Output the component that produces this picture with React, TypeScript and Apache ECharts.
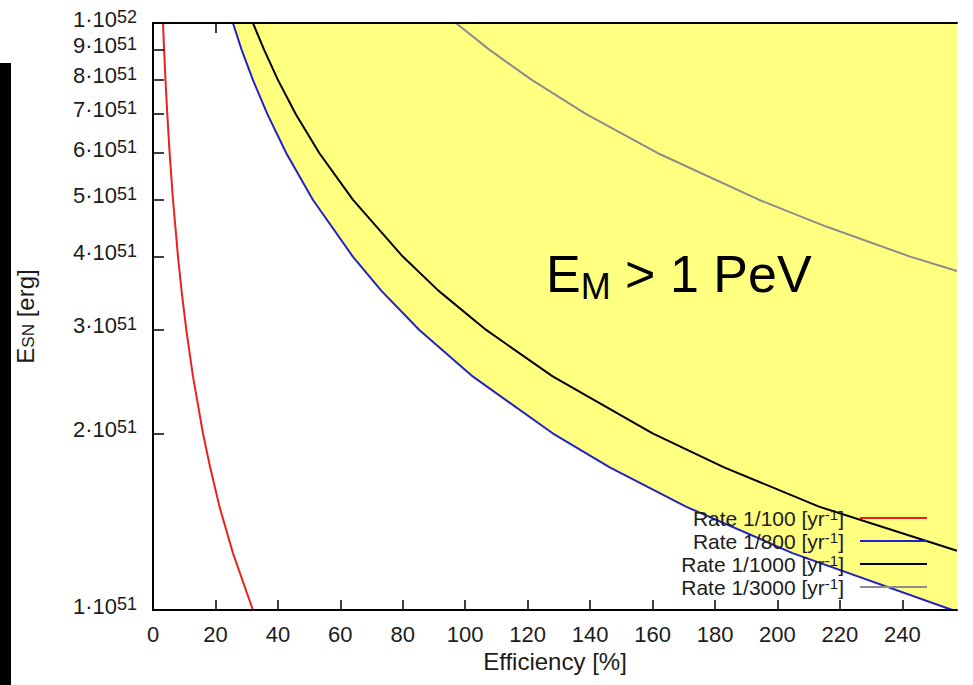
import React, { useEffect, useRef } from 'react';
import * as echarts from 'echarts';

// Efficiency [%] (x) and E_SN in units of 1e51 erg (y)
const redEff = [3.2, 3.56, 4, 4.57, 5.33, 6.4, 8, 9.14, 10.67, 12.8, 16, 18.3, 21.3, 25.6, 32];
const redE = [10, 9, 8, 7, 6, 5, 4, 3.5, 3, 2.5, 2, 1.75, 1.5, 1.25, 1];
const blueEff = [25.6, 28.4, 32, 36.6, 42.7, 51.2, 64, 73.1, 85.3, 102.4, 128, 146.3, 170.7, 204.8, 256, 257.5];
const blueE = [10, 9, 8, 7, 6, 5, 4, 3.5, 3, 2.5, 2, 1.75, 1.5, 1.25, 1, 0.994];
const blackEff = [32, 35.6, 40, 45.7, 53.3, 64, 80, 91.4, 106.7, 128, 160, 182.9, 213.3, 257.5];
const blackE = [10, 9, 8, 7, 6, 5, 4, 3.5, 3, 2.5, 2, 1.75, 1.5, 1.262];
const grayEff = [97, 107.8, 121.3, 138.6, 161.7, 194, 215.6, 242.5, 257.5];
const grayE = [10, 9, 8, 7, 6, 5, 4.5, 4, 3.78];

const seriesNames = ['Rate 1/100 [yr-1]', 'Rate 1/800 [yr-1]', 'Rate 1/1000 [yr-1]', 'Rate 1/3000 [yr-1]'];
const seriesColors = ['#e8221c', '#2222c8', '#000000', '#8c8c8c'];

const xTicks = [0, 20, 40, 60, 80, 100, 120, 140, 160, 180, 200, 220, 240];
const yTicks = [1, 2, 3, 4, 5, 6, 7, 8, 9, 10];

const FONT = '"Liberation Sans", Arial, Helvetica, sans-serif';
const TXT = '#1c1c1c';

const pairs = (xs: number[], ys: number[]) => xs.map((x, i) => [x, ys[i]]);

export default function App() {
  const ref = useRef<HTMLDivElement>(null);
  useEffect(() => {
    document.body.style.margin = '0';
    const chart = echarts.init(ref.current!, null, { renderer: 'svg' });
    const lineData = [pairs(redEff, redE), pairs(blueEff, blueE), pairs(blackEff, blackE), pairs(grayEff, grayE)];
    const option: any = {
      animation: false,
      textStyle: { fontFamily: FONT },
      grid: { left: 153, right: 16, top: 23, bottom: 75, containLabel: false, outerBoundsMode: 'none' },
      xAxis: [
        {
          type: 'value', min: 0, max: 257.5, position: 'bottom', z: 5,
          splitLine: { show: false },
          axisLine: { show: true, lineStyle: { color: '#000', width: 2 } },
          axisTick: { show: true, inside: true, length: 10, customValues: xTicks, lineStyle: { color: '#000', width: 1.5 } },
          axisLabel: { customValues: xTicks, fontSize: 22, color: TXT, margin: 13, fontFamily: FONT },
          name: 'Efficiency [%]', nameLocation: 'middle', nameGap: 38,
          nameTextStyle: { fontSize: 24, color: TXT, fontFamily: FONT },
        },
        {
          type: 'value', min: 0, max: 257.5, position: 'top', z: 5,
          splitLine: { show: false },
          axisLine: { show: true, lineStyle: { color: '#000', width: 2 } },
          axisTick: { show: true, inside: true, length: 10, customValues: [20], lineStyle: { color: '#000', width: 1.5 } },
          axisLabel: { show: false },
        },
      ],
      yAxis: [
        {
          type: 'log', logBase: 10, min: 1, max: 10, position: 'left', z: 5,
          splitLine: { show: false },
          axisLine: { show: true, lineStyle: { color: '#000', width: 2 } },
          axisTick: { show: true, inside: true, length: 11, customValues: yTicks, lineStyle: { color: '#000', width: 1.5 } },
          axisLabel: {
            customValues: yTicks, margin: 16, fontSize: 22, color: TXT, fontFamily: FONT,
            padding: [0, 0, 8, 0],
            formatter: (v: number) => (v >= 9.99 ? '1·10{sup|52}' : `${Math.round(v)}·10{sup|51}`),
            rich: { sup: { fontSize: 18, verticalAlign: 'top', lineHeight: 22, color: TXT, fontFamily: FONT } },
          },
          name: 'E{sub|SN} [erg]', nameLocation: 'middle', nameRotate: 90, nameGap: 116,
          nameTextStyle: {
            fontSize: 24, color: TXT, fontFamily: FONT,
            rich: { sub: { fontSize: 17, verticalAlign: 'bottom', color: TXT, fontFamily: FONT } },
          },
        },
        {
          type: 'log', logBase: 10, min: 1, max: 10, position: 'right', z: 5,
          splitLine: { show: false },
          axisLine: { show: true, lineStyle: { color: '#000', width: 2 } },
          axisTick: { show: false },
          axisLabel: { show: false },
        },
      ],
      legend: {
        data: seriesNames,
        orient: 'vertical', right: 46, top: 507, align: 'right', padding: 0,
        icon: 'rect', itemWidth: 67, itemHeight: 2, itemGap: 1,
        formatter: (n: string) => n.replace('[yr-1]', '[yr{sup|-1}]'),
        textStyle: {
          fontSize: 21, color: TXT, fontFamily: FONT, width: 200, align: 'right', lineHeight: 22,
          padding: [0, 11, 0, 0],
          rich: { sup: { fontSize: 15, verticalAlign: 'top', lineHeight: 16, color: TXT, fontFamily: FONT } },
        },
      },
      series: [
        {
          name: 'fill', type: 'line', data: lineData[1], showSymbol: false, symbol: 'none', z: 1,
          lineStyle: { width: 0 }, areaStyle: { color: '#ffff80', opacity: 1, origin: 'end' }, silent: true,
        },
        ...seriesNames.map((name, i) => ({
          name, type: 'line', data: lineData[i], showSymbol: false, symbol: 'none', z: 3,
          lineStyle: { color: seriesColors[i], width: 2 }, itemStyle: { color: seriesColors[i] },
        })),
      ],
      graphic: [
        { type: 'rect', shape: { x: 0, y: 63, width: 11, height: 622 }, style: { fill: '#000' }, z: 10 },
        {
          type: 'text', left: 546, top: 248, z: 10,
          style: {
            text: '{a|E}{s|M}{a| > 1 PeV}',
            rich: {
              a: { fontSize: 52, fontFamily: FONT, fill: '#000', lineHeight: 60 },
              s: { fontSize: 36, fontFamily: FONT, fill: '#000', verticalAlign: 'bottom', lineHeight: 28 },
            },
          },
        },
      ],
    };
    chart.setOption(option);
    return () => chart.dispose();
  }, []);
  return <div ref={ref} style={{ width: 973, height: 685 }} />;
}
